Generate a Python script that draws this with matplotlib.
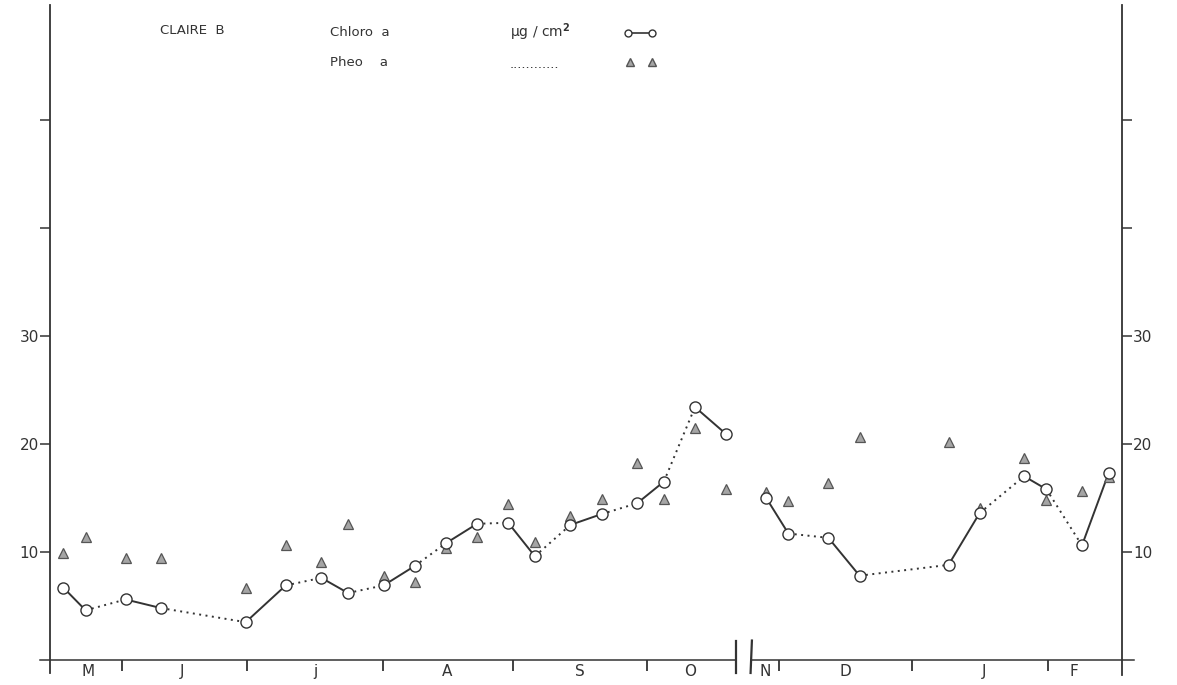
import matplotlib
matplotlib.use("Agg")
import matplotlib.pyplot as plt

# sampling days counted along the drawn time axis (mid-May .. February, with a break in Oct/Nov)
sample_day = [3, 8, 17, 25, 44, 53, 61, 67, 75, 82, 89, 96, 103, 109, 117,
              124, 132, 138, 145, 152, 161, 166, 175, 182, 202, 209, 219, 224, 232, 238]
chloro = [6.7, 4.6, 5.6, 4.8, 3.5, 6.9, 7.6, 6.2, 6.9, 8.7, 10.8, 12.6, 12.7, 9.6, 12.5,
          13.5, 14.5, 16.5, 23.4, 20.9, 15.0, 11.7, 11.3, 7.8, 8.8, 13.6, 17.0, 15.8, 10.6, 17.3]
pheo = [9.9, 11.4, 9.4, 9.4, 6.7, 10.6, 9.1, 12.6, 7.8, 7.2, 10.4, 11.4, 14.4, 10.9, 13.3,
        14.9, 18.2, 14.9, 21.5, 15.8, 15.5, 14.7, 16.4, 20.6, 20.2, 14.1, 18.7, 14.8, 15.6, 16.9]
break_after = 19  # no line between these two samples (axis break)

month_edges = [16.2, 44.3, 74.8, 104.0, 134.2, 164.0, 193.9, 224.3]
month_mid = [8.5, 29.7, 59.6, 89.2, 119.1, 143.8, 160.7, 178.9, 210.1, 230.1]
month_names = ["M", "J", "j", "A", "S", "O", "N", "D", "J", "F"]
axis_break = [154.2, 157.5]

y_ticks = [10, 20, 30, 40, 50]
y_labels = ["10", "20", "30", "", ""]

ink = "#333333"
dots = (0, (1, 2.3))

fig = plt.figure(figsize=(11.77, 6.85), dpi=100)
ax = fig.add_axes([50 / 1177, 25 / 685, 1072 / 1177, 655 / 685])
ax.set_xlim(0, 241)
ax.set_ylim(0, 60.6)
for s in ax.spines.values():
    s.set_visible(False)

# hand drawn frame: x axis with a gap at the break, verticals run a bit past it
ax.plot([-2.2, axis_break[0]], [0, 0], color=ink, lw=1.1, clip_on=False)
ax.plot([axis_break[1], 243.8], [0, 0], color=ink, lw=1.1, clip_on=False)
ax.plot([0, 0], [-1.2, 60.6], color=ink, lw=1.3, clip_on=False)
ax.plot([241, 241], [-1.4, 60.6], color=ink, lw=1.3, clip_on=False)
ax.plot([axis_break[0], axis_break[0]], [-1.2, 1.8], color=ink, lw=1.6, clip_on=False)
ax.plot([axis_break[1], axis_break[1] + 0.3], [-1.2, 1.8], color=ink, lw=1.6, clip_on=False)

# chlorophyll: segments alternate solid / dotted
for i in range(len(sample_day) - 1):
    if i == break_after:
        continue
    ls = "-" if i % 2 == 0 else dots
    ax.plot(sample_day[i:i + 2], chloro[i:i + 2], color=ink, lw=1.4, ls=ls, zorder=2)

ax.plot(sample_day, pheo, ls="none", marker="^", ms=6.5, mfc="#a5a5a5", mec="#555555",
        mew=0.9, zorder=3)
ax.plot(sample_day, chloro, ls="none", marker="o", ms=8, mfc="white", mec=ink,
        mew=1.0, zorder=4)

ax.set_xticks(month_edges)
ax.set_xticklabels([])
ax.set_xticks(month_mid, minor=True)
ax.set_xticklabels(month_names, minor=True)
ax.tick_params(axis="x", which="major", direction="out", length=8, width=1.3, color=ink)
ax.tick_params(axis="x", which="minor", length=0, pad=3, labelsize=11, labelcolor=ink)

ax.set_yticks(y_ticks)
ax.set_yticklabels(y_labels)
ax.tick_params(axis="y", direction="out", length=7, width=1.1, color=ink, pad=1,
               labelsize=11, labelcolor=ink, right=True, labelright=True)

# header
fig.text(160 / 1177, 1 - 30 / 685, "CLAIRE  B", fontsize=9.5, color=ink, va="center")
fig.text(330 / 1177, 1 - 33 / 685, "Chloro  a", fontsize=9.5, color=ink, va="center")
fig.text(330 / 1177, 1 - 62 / 685, "Pheo    a", fontsize=9.5, color=ink, va="center")
fig.text(510 / 1177, 1 - 32 / 685, "µg / cm$^{\\mathbf{2}}$", fontsize=10, color=ink,
         va="center")
fig.text(510 / 1177, 1 - 64 / 685, "............", fontsize=9.5, color=ink, va="center")
fig.lines.append(plt.Line2D([628 / 1177, 652 / 1177], [1 - 33 / 685, 1 - 33 / 685],
                            transform=fig.transFigure, color=ink, lw=1.2, marker="o",
                            ms=5, mfc="white", mec=ink))
fig.lines.append(plt.Line2D([630 / 1177, 652 / 1177], [1 - 62 / 685, 1 - 62 / 685],
                            transform=fig.transFigure, ls="none", marker="^",
                            ms=6, mfc="#a5a5a5", mec="#555555"))

fig.savefig("out.png", dpi=100)
